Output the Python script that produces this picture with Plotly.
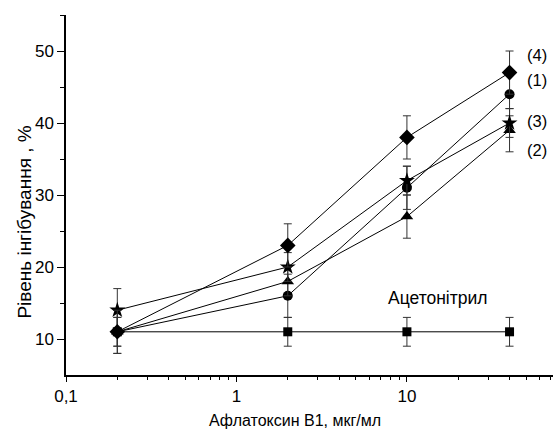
import plotly.graph_objects as go
import math

# Aflatoxin B1 concentration, µg/ml
conc = [0.2, 2, 10, 40]

# Inhibition level, % (series labelled (1)-(4) and the acetonitrile control)
s1 = [11, 16, 31, 44]
s1_err = [3, 3, 3, 3]
s2 = [11, 18, 27, 39]
s2_err = [2, 2, 3, 3]
s3 = [14, 20, 32, 40]
s3_err = [3, 2, 2, 2]
s4 = [11, 23, 38, 47]
s4_err = [3, 3, 3, 3]
acn = [11, 11, 11, 11]
acn_err = [2, 2, 2, 2]

x_tickvals = [0.1, 1, 10]
x_ticktext = ["0,1", "1", "10"]
x_minor = [0.2, 0.3, 0.4, 0.5, 0.6, 0.7, 0.8, 0.9,
           2, 3, 4, 5, 6, 7, 8, 9, 20, 30, 40, 50, 60, 70]
y_tickvals = [10, 20, 30, 40, 50]
y_minor = [15, 25, 35, 45, 55]

FONT = "Liberation Sans, Arial, sans-serif"

series = [
    (acn, acn_err, "square", 9),
    (s1, s1_err, "circle", 10),
    (s2, s2_err, "triangle-up", 11),
    (s3, s3_err, "star", 12),
    (s4, s4_err, "diamond", 12),
]

fig = go.Figure()
for vals, errs, sym, sz in series:
    fig.add_trace(go.Scatter(
        x=conc, y=vals, mode="lines+markers",
        line=dict(color="black", width=1),
        marker=dict(symbol=sym, size=sz, color="black"),
        error_y=dict(type="data", array=errs, visible=True,
                     color="#333333", thickness=1, width=4),
        showlegend=False,
    ))

labels = [("(4)", 49.5), ("(1)", 46.0), ("(3)", 40.3), ("(2)", 36.3)]
for txt, yv in labels:
    fig.add_annotation(x=math.log10(57.8), y=yv, text=txt, showarrow=False,
                       xanchor="center", yanchor="middle",
                       font=dict(size=16.5, color="black", family=FONT))
fig.add_annotation(x=math.log10(15.2), y=15.7, text="Ацетонітрил", showarrow=False,
                   xanchor="center", yanchor="middle",
                   font=dict(size=17.5, color="black", family=FONT))

# axis titles
fig.add_annotation(xref="paper", yref="paper", x=0.470, y=-0.125,
                   xanchor="center", yanchor="middle",
                   text="Афлатоксин B1, мкг/мл", showarrow=False,
                   font=dict(size=16, color="black", family=FONT))
fig.add_annotation(xref="paper", yref="paper", x=-0.085, y=0.425,
                   xanchor="center", yanchor="middle",
                   text="Рівень інгібування , %", showarrow=False, textangle=-90,
                   font=dict(size=19, color="black", family=FONT))

fig.update_layout(
    width=553, height=434,
    margin=dict(l=66, r=0, t=15, b=59),
    paper_bgcolor="white", plot_bgcolor="white",
    font=dict(family=FONT, color="black", size=17),
    xaxis=dict(
        type="log", range=[-1, 1.857],
        tickvals=x_tickvals, ticktext=x_ticktext,
        ticks="outside", ticklen=5, tickwidth=1, tickcolor="black",
        minor=dict(tickvals=x_minor, ticks="outside", ticklen=3,
                   tickwidth=1, tickcolor="black", showgrid=False),
        showline=True, linecolor="black", linewidth=1.5,
        showgrid=False, zeroline=False,
        tickfont=dict(size=17),
    ),
    yaxis=dict(
        range=[5, 55],
        tickvals=y_tickvals,
        ticks="outside", ticklen=7, tickwidth=1, tickcolor="black",
        minor=dict(tickvals=y_minor, ticks="outside", ticklen=4,
                   tickwidth=1, tickcolor="black", showgrid=False),
        showline=True, linecolor="black", linewidth=1.5,
        showgrid=False, zeroline=False,
        tickfont=dict(size=17),
    ),
)

fig.write_html("out.html")
